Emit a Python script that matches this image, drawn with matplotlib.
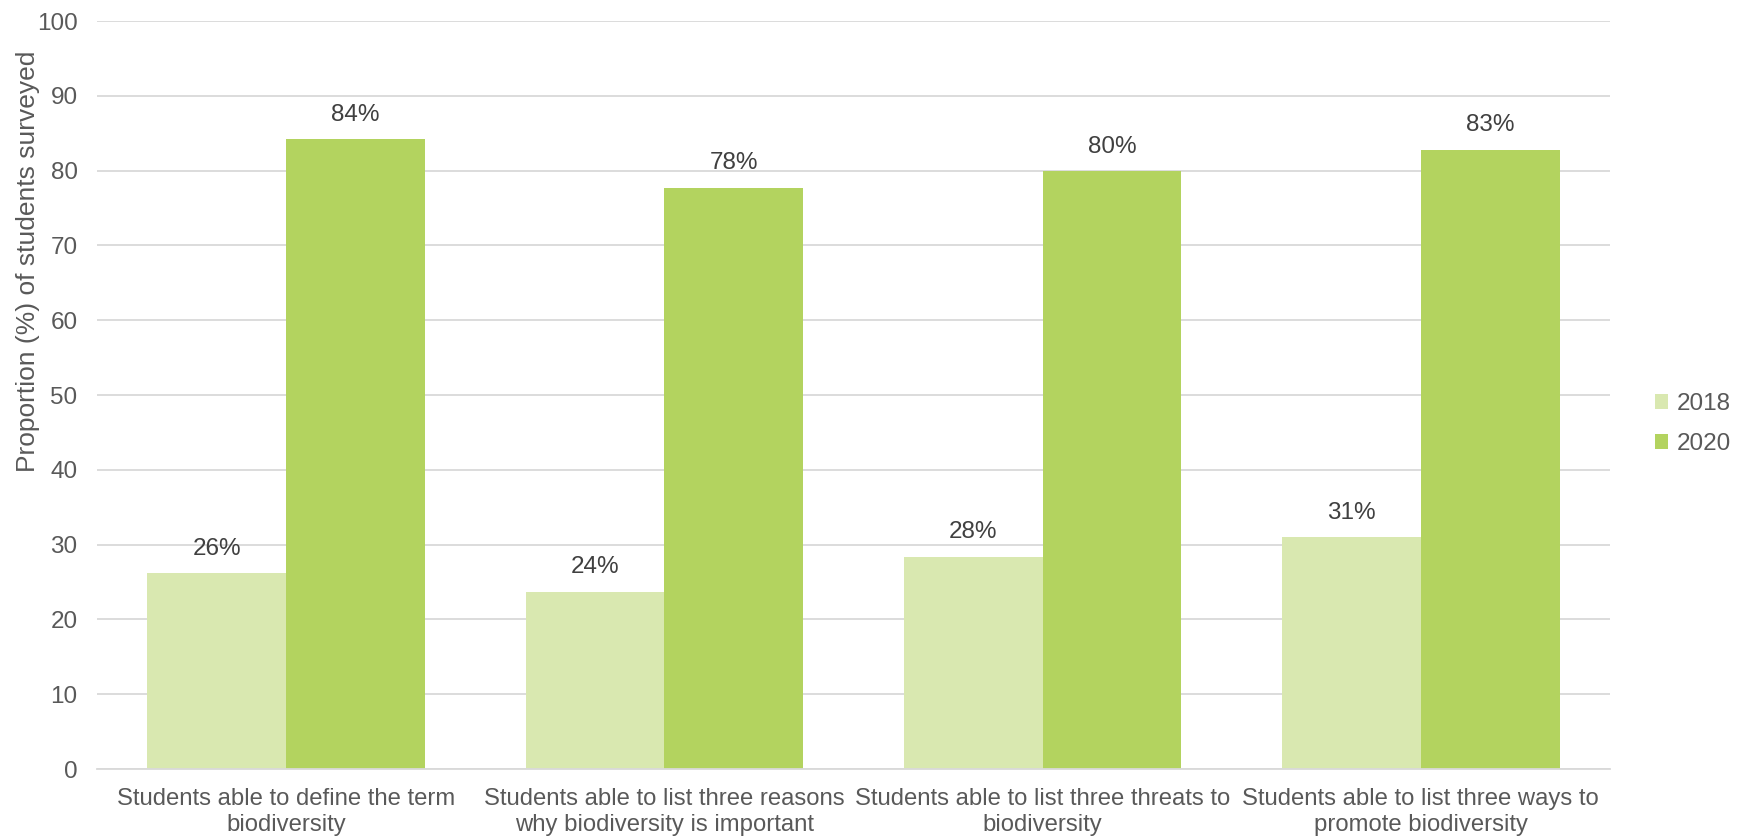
import matplotlib
matplotlib.use("Agg")
from matplotlib import pyplot as plt
import numpy as np

plt.rcParams["font.family"] = ["Liberation Sans", "DejaVu Sans"]

categories = ["Students able to define the term\nbiodiversity",
              "Students able to list three reasons\nwhy biodiversity is important",
              "Students able to list three threats to\nbiodiversity",
              "Students able to list three ways to\npromote biodiversity"]
years = ["2018", "2020"]
vals_2018 = [26.2, 23.7, 28.4, 31.0]
vals_2020 = [84.2, 77.7, 79.9, 82.8]
colors = ["#D9E8B0", "#B3D35F"]
text_col = "#595959"
fs = 17.5

fig = plt.figure(figsize=(17.45, 8.38), dpi=100)
ax = fig.add_axes([97 / 1745, 1 - 769 / 838, (1610 - 97) / 1745, (769 - 21) / 838])

x = np.arange(len(categories))
w = 0.367
for i, (vals, yr) in enumerate(zip([vals_2018, vals_2020], years)):
    pos = x + (i - 0.5) * w
    ax.bar(pos, vals, width=w, color=colors[i], label=yr, zorder=2)
    for p, v in zip(pos, vals):
        ax.text(p, v + 1.8, f"{round(v):.0f}%", ha="center", va="bottom",
                fontsize=fs, color="#404040")

ax.set_xlim(-0.5, len(categories) - 0.5)
ax.set_ylim(0, 100)
ax.set_yticks(np.arange(0, 101, 10))
ax.yaxis.grid(True, color="#D9D9D9", linewidth=1.3, zorder=0)
ax.set_axisbelow(True)
for s in ["top", "right", "left"]:
    ax.spines[s].set_visible(False)
ax.spines["bottom"].set_color("#D9D9D9")
ax.spines["bottom"].set_linewidth(1.3)
ax.tick_params(axis="both", length=0, labelsize=fs, labelcolor=text_col)
ax.tick_params(axis="y", pad=14)
ax.tick_params(axis="x", pad=14, labelsize=17.2)
ax.set_xticks(x)
ax.set_xticklabels(categories, linespacing=1.2)
ax.set_ylabel("Proportion (%) of students surveyed", fontsize=19,
              color=text_col)
ax.yaxis.set_label_coords(-0.0377, 0.679)

ax.legend(loc="center left", bbox_to_anchor=(1.015, 0.461), frameon=False,
          fontsize=fs, labelcolor=text_col, handlelength=0.55,
          handleheight=0.55, handletextpad=0.35, labelspacing=0.75)

fig.savefig("out.png", dpi=100)
